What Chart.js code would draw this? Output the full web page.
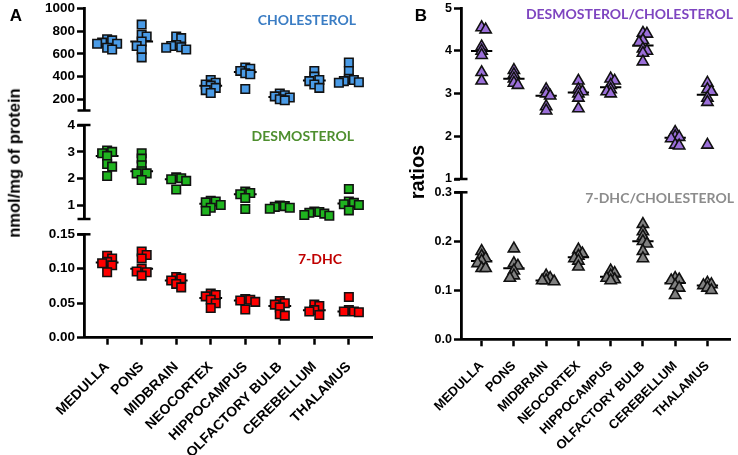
<!DOCTYPE html>
<html><head><meta charset="utf-8">
<script src="https://cdn.jsdelivr.net/npm/chart.js@4/dist/chart.umd.min.js"></script>
<style>
html,body{margin:0;padding:0;background:#fff;}
#wrap{position:relative;width:738px;height:455px;overflow:hidden;background:#fff;}
canvas{position:absolute;left:0;top:0;}
.t{position:absolute;white-space:nowrap;line-height:1;font-weight:bold;}
.lab{font-family:'Lato','Open Sans',sans-serif;font-size:14px;transform:translateY(-50%);}
.ax{font-family:'Liberation Sans',Arial,sans-serif;transform:translate(-50%,-50%) rotate(-90deg);}
.pl{font-family:'Liberation Sans',Arial,sans-serif;font-size:17px;transform:translate(-50%,-50%);}
</style></head><body>
<div id="wrap">
<canvas id="a1" width="738" height="455"></canvas>
<canvas id="a2" width="738" height="455"></canvas>
<canvas id="a3" width="738" height="455"></canvas>
<canvas id="b1" width="738" height="455"></canvas>
<canvas id="b2" width="738" height="455"></canvas>
<div class="t pl" style="left:16px;top:15px;">A</div>
<div class="t pl" style="left:421px;top:15px;">B</div>
<div class="t ax" style="left:14px;top:163px;font-size:16.5px;">nmol/mg of protein</div>
<div class="t ax" style="left:417px;top:172px;font-size:20px;">ratios</div>
<div class="t lab" style="right:382px;top:20px;color:#3B7DC4;">CHOLESTEROL</div>
<div class="t lab" style="right:384px;top:136px;color:#4E8F2E;">DESMOSTEROL</div>
<div class="t lab" style="right:396px;top:259px;color:#C00000;">7-DHC</div>
<div class="t lab" style="right:5px;top:14px;color:#7E45C0;">DESMOSTEROL/CHOLESTEROL</div>
<div class="t lab" style="right:4px;top:198px;color:#8C8C8C;">7-DHC/CHOLESTEROL</div>
</div>
<script>
const categories = ['MEDULLA','PONS','MIDBRAIN','NEOCORTEX','HIPPOCAMPUS','OLFACTORY BULB','CEREBELLUM','THALAMUS'];

const cholesterol = [
  [730, 720, 700, 690, 690, 655, 640],
  [860, 770, 755, 710, 670, 640, 570],
  [755, 740, 680, 670, 660, 655, 640],
  [370, 345, 330, 320, 300, 280, 255],
  [480, 470, 450, 430, 420, 290],
  [250, 235, 225, 215, 200, 190],
  [450, 400, 370, 360, 330, 300],
  [525, 450, 380, 370, 360, 350, 345]
];
const desmosterol = [
  [3.05, 3.0, 2.95, 2.85, 2.55, 2.45, 2.1],
  [2.95, 2.75, 2.5, 2.28, 2.2, 2.2, 1.95],
  [2.05, 2.02, 1.98, 1.92, 1.6],
  [1.18, 1.15, 1.12, 1.02, 0.92, 0.8],
  [1.52, 1.47, 1.42, 1.28, 0.87],
  [1.0, 0.98, 0.95, 0.92, 0.88],
  [0.78, 0.76, 0.73, 0.7, 0.65, 0.62],
  [1.62, 1.15, 1.1, 1.05, 1.02, 0.82]
];
const dhc7 = [
  [0.119, 0.115, 0.110, 0.108, 0.105, 0.095],
  [0.125, 0.12, 0.115, 0.10, 0.096, 0.095, 0.09],
  [0.088, 0.086, 0.083, 0.078, 0.073],
  [0.064, 0.062, 0.060, 0.055, 0.050, 0.043],
  [0.056, 0.055, 0.054, 0.052, 0.041],
  [0.053, 0.050, 0.048, 0.044, 0.034, 0.032],
  [0.048, 0.046, 0.040, 0.038, 0.033],
  [0.059, 0.040, 0.038, 0.038, 0.037]
];
const desmoCholRatio = [
  [4.55, 4.5, 4.1, 4.0, 3.9, 3.5, 3.3],
  [3.55, 3.45, 3.35, 3.25, 3.2],
  [3.1, 3.0, 2.95, 2.7, 2.6],
  [3.3, 3.1, 3.05, 3.0, 2.9, 2.65],
  [3.35, 3.3, 3.2, 3.1, 3.05, 3.0],
  [4.42, 4.4, 4.25, 4.2, 4.05, 4.0, 3.95, 3.75],
  [2.1, 2.0, 1.98, 1.95, 1.8, 1.78],
  [3.25, 3.1, 3.05, 2.9, 2.8, 1.8]
];
const dhcCholRatio = [
  [0.18, 0.17, 0.165, 0.16, 0.155, 0.145, 0.145],
  [0.185, 0.155, 0.15, 0.14, 0.13, 0.125],
  [0.13, 0.125, 0.12, 0.12, 0.118],
  [0.183, 0.175, 0.17, 0.165, 0.16, 0.148],
  [0.14, 0.135, 0.13, 0.125, 0.122, 0.12],
  [0.235, 0.22, 0.21, 0.2, 0.195, 0.18, 0.165],
  [0.125, 0.122, 0.12, 0.11, 0.105, 0.09],
  [0.115, 0.112, 0.11, 0.105, 0.1]
];

const ticksChol = [200, 400, 600, 800, 1000];
const ticksDesmo = [1, 2, 3, 4];
const ticksDhc = [0, 0.05, 0.10, 0.15];
const ticksDesmoRatio = [1, 2, 3, 4, 5];
const ticksDhcRatio = [0, 0.1, 0.2, 0.3];

Chart.defaults.font.family = "'Liberation Sans', Arial, sans-serif";
Chart.defaults.color = '#000';

function median(a) {
  const s = a.slice().sort((x, y) => x - y);
  const n = s.length;
  return n % 2 ? s[(n - 1) / 2] : (s[n / 2 - 1] + s[n / 2]) / 2;
}

// simple beeswarm spreading of points with close values
function swarm(values, pxPerUnit, pxPerCat, diam, step) {
  const idx = values.map((v, i) => i).sort((a, b) => values[b] - values[a]);
  const placed = [];
  const off = new Array(values.length).fill(0);
  let flip = 1;
  for (const i of idx) {
    const yp = values[i] * pxPerUnit;
    for (let k = 0; k < 20; k++) {
      const s = k === 0 ? 0 : (k % 2 ? flip : -flip) * Math.ceil(k / 2) * step;
      let ok = true;
      for (const p of placed) {
        if (Math.abs(p.y - yp) < diam && Math.abs(p.x - s) < diam) { ok = false; break; }
      }
      if (ok) { placed.push({ x: s, y: yp }); off[i] = s / pxPerCat; if (s !== 0) flip = -flip; break; }
    }
  }
  return off;
}

const capsPlugin = {
  id: 'caps',
  afterDraw(chart, args, opts) {
    const a = chart.chartArea, ctx = chart.ctx;
    ctx.save();
    ctx.strokeStyle = '#000';
    ctx.lineWidth = 2.5;
    const draw = y => { ctx.beginPath(); ctx.moveTo(a.left - 6.5, y); ctx.lineTo(a.left + 6.5, y); ctx.stroke(); };
    if (opts.top) draw(a.top);
    if (opts.bottom) draw(a.bottom);
    ctx.restore();
  }
};

function makeChart(id, c) {
  const pxPerUnit = (c.bottom - c.top) / (c.yMax - c.yMin);
  const pxPerCat = (c.right - c.left) / (c.xMax - c.xMin);
  const pts = [], med = [];
  c.groups.forEach((vals, i) => {
    const off = swarm(vals, pxPerUnit, pxPerCat, c.diam, c.step);
    vals.forEach((v, j) => pts.push({ x: i + off[j], y: v }));
    const m = median(vals);
    med.push({ x: i - 0.33, y: m }, { x: i + 0.33, y: m }, { x: i + 0.5, y: null });
  });
  const W = 738, H = 455, yW = 42;
  const xH = H - c.bottom;
  const padding = {
    left: c.left - yW,
    right: W - c.right,
    top: c.top,
    bottom: c.showX ? 0 : H - c.bottom
  };
  const fs = c.fontSize;
  new Chart(document.getElementById(id), {
    type: 'scatter',
    data: {
      datasets: [
        {
          type: 'line', data: med, borderColor: '#000', borderWidth: 2,
          pointRadius: 0, spanGaps: false, order: 2, clip: false
        },
        {
          data: pts, pointStyle: c.shape, pointRadius: c.radius,
          pointBackgroundColor: c.fill, pointBorderColor: '#111', pointBorderWidth: 1.6,
          order: 1, clip: false
        }
      ]
    },
    options: {
      responsive: false, animation: false, events: [],
      layout: { padding, autoPadding: false },
      plugins: { legend: { display: false }, tooltip: { enabled: false }, caps: { top: c.capTop, bottom: c.capBottom } },
      scales: {
        x: {
          type: 'linear', min: c.xMin, max: c.xMax, display: c.showX,
          afterBuildTicks: s => { s.ticks = categories.map((n, i) => ({ value: i })); },
          afterFit: s => { if (c.showX) s.height = xH; },
          ticks: {
            autoSkip: false, minRotation: 45, maxRotation: 45, padding: c.xPad,
            font: { size: c.xFontSize, weight: 'bold' }, color: '#000',
            callback: v => categories[v]
          },
          grid: { drawOnChartArea: false, drawTicks: true, tickLength: 7, tickWidth: 2.5, tickColor: '#000' },
          border: { display: true, width: 2.8, color: '#000' }
        },
        y: {
          type: 'linear', min: c.yMin, max: c.yMax,
          afterBuildTicks: s => { s.ticks = c.yTicks.map(v => ({ value: v })); },
          afterFit: s => { s.width = yW; },
          ticks: {
            padding: 2, font: { size: fs, weight: 'bold', lineHeight: 1 }, color: '#000',
            callback: v => c.fmt(v)
          },
          grid: { drawOnChartArea: false, drawTicks: true, tickLength: 7, tickWidth: 2.5, tickColor: '#000' },
          border: { display: true, width: 2.8, color: '#000' }
        }
      }
    },
    plugins: [capsPlugin]
  });
}

const A = { left: 84, right: 372, xMin: -0.67, xMax: 7.67, fontSize: 13.5, xFontSize: 14, xPad: 14 };
const B = { left: 461, right: 730, xMin: -0.64, xMax: 7.7, fontSize: 12.5, xFontSize: 13, xPad: 12 };
const sq = { shape: 'rect', radius: 6, diam: 5, step: 5 };
const tri = { shape: 'triangle', radius: 6.5, diam: 4, step: 4 };

makeChart('a1', Object.assign({}, A, sq, {
  top: 7, bottom: 110.5, yMin: 100, yMax: 1000, yTicks: ticksChol, fmt: v => String(v),
  groups: cholesterol, fill: '#4A9BE6', showX: false, capTop: false, capBottom: true
}));
makeChart('a2', Object.assign({}, A, sq, {
  top: 125, bottom: 219, yMin: 0.5, yMax: 4, yTicks: ticksDesmo, fmt: v => String(v),
  groups: desmosterol, fill: '#1FB41F', showX: false, capTop: true, capBottom: true
}));
makeChart('a3', Object.assign({}, A, sq, {
  top: 234.3, bottom: 337.7, yMin: 0, yMax: 0.15, yTicks: ticksDhc, fmt: v => v.toFixed(2),
  groups: dhc7, fill: '#FF0000', showX: true, capTop: true, capBottom: false
}));
makeChart('b1', Object.assign({}, B, tri, {
  top: 6, bottom: 179, yMin: 1, yMax: 5, yTicks: ticksDesmoRatio, fmt: v => String(v),
  groups: desmoCholRatio, fill: '#9B6FD9', showX: false, capTop: false, capBottom: true
}));
makeChart('b2', Object.assign({}, B, tri, {
  top: 192.3, bottom: 339.3, yMin: 0, yMax: 0.3, yTicks: ticksDhcRatio, fmt: v => v.toFixed(1),
  groups: dhcCholRatio, fill: '#808080', showX: true, capTop: true, capBottom: false
}));
</script>
</body></html>
